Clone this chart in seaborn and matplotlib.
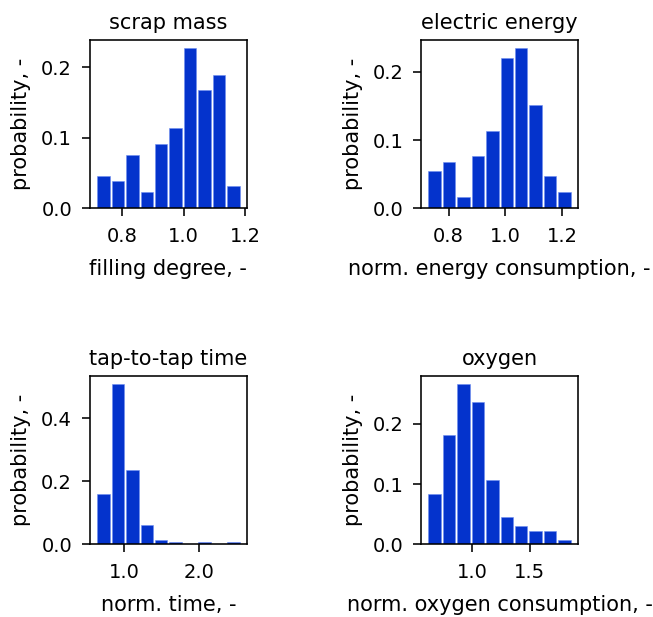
import numpy as np
import pandas as pd
import matplotlib
matplotlib.use("Agg")
import matplotlib.pyplot as plt
import seaborn as sns

# histogram bins (bin edges + probability per bin)
scrap_edges = np.linspace(0.715, 1.185, 11)
scrap_prob = [0.046, 0.038, 0.076, 0.023, 0.091, 0.114, 0.227, 0.167, 0.189, 0.031]

energy_edges = np.linspace(0.7255, 1.2335, 11)
energy_prob = [0.054, 0.068, 0.016, 0.076, 0.114, 0.220, 0.235, 0.152, 0.047, 0.024]

time_edges = np.linspace(0.631, 2.56, 11)
time_prob = [0.158, 0.508, 0.234, 0.060, 0.014, 0.0064, 0.0, 0.0064, 0.0, 0.0064]

oxygen_edges = np.linspace(0.609, 1.868, 11)
oxygen_prob = [0.083, 0.182, 0.266, 0.236, 0.106, 0.046, 0.030, 0.022, 0.022, 0.007]

titles = ["scrap mass", "electric energy", "tap-to-tap time", "oxygen"]
xlabels = ["filling degree, -", "norm. energy consumption, -",
           "norm. time, -", "norm. oxygen consumption, -"]
xticks = [[0.8, 1.0, 1.2], [0.8, 1.0, 1.2], [1.0, 2.0], [1.0, 1.5]]

panels = [(scrap_edges, scrap_prob), (energy_edges, energy_prob),
          (time_edges, time_prob), (oxygen_edges, oxygen_prob)]

sns.set_theme(context="notebook", style="ticks")
plt.rcParams["font.family"] = ["DejaVu Sans"]
plt.rcParams.update({
    "axes.titlesize": 15, "axes.labelsize": 15,
    "xtick.labelsize": 14, "ytick.labelsize": 14,
    "text.color": "black", "axes.labelcolor": "black",
    "axes.edgecolor": "black", "xtick.color": "black", "ytick.color": "black",
    "axes.linewidth": 1.15,
    "xtick.major.size": 5.8, "ytick.major.size": 5.8,
    "xtick.major.width": 1.15, "ytick.major.width": 1.15,
    "xtick.major.pad": 7.5, "ytick.major.pad": 7.2,
})

fig, axes = plt.subplots(2, 2, figsize=(6.53, 6.17), dpi=100)
fig.subplots_adjust(left=0.138, right=0.885, bottom=0.118, top=0.935,
                    wspace=1.115, hspace=1.0)

for ax, (edges, prob), title, xl, xt in zip(axes.flat, panels, titles, xlabels, xticks):
    centers = (edges[:-1] + edges[1:]) / 2
    df = pd.DataFrame({"x": centers, "p": prob})
    sns.histplot(data=df, x="x", weights="p", bins=edges.tolist(), shrink=0.86,
                 color="#0433cc", alpha=1, edgecolor="#6f8ff0", linewidth=0.4, ax=ax)
    ax.set_title(title, pad=8)
    ax.set_xlabel(xl, labelpad=9.5)
    ax.set_ylabel("probability, -", labelpad=7)
    ax.set_xticks(xt)
    ax.set_xticklabels([f"{t:.1f}" for t in xt])
    for s in ["top", "right"]:
        ax.spines[s].set_visible(True)

fig.savefig("out.png", dpi=100)
